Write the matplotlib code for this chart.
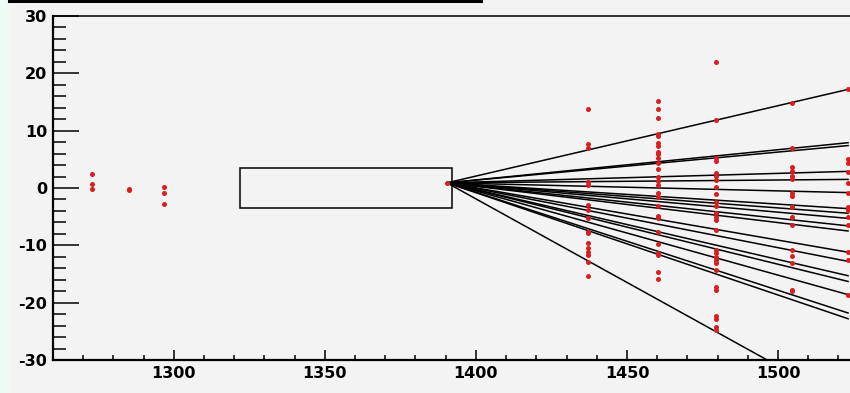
import matplotlib.pyplot as plt
from matplotlib.lines import Line2D
from matplotlib.patches import Rectangle
from matplotlib.ticker import MultipleLocator

plt.rcParams['font.family'] = ['DejaVu Sans']
plt.rcParams['axes.unicode_minus'] = False

# detector layer positions (z) and the hits recorded in each
layer_z = [1272.8, 1285.3, 1296.9, 1437.0, 1460.2, 1479.5, 1504.5, 1523.2]
layer_hits = [
    [2.5, 0.7, -0.1],
    [-0.2, -0.4],
    [0.1, -0.8, -2.8],
    [13.8, 7.6, 6.9, 1.0, 0.5, -3.0, -3.8, -5.3, -7.6, -7.9, -9.6, -10.5,
     -11.1, -11.7, -12.9, -15.4],
    [15.2, 13.7, 12.2, 9.4, 9.0, 7.8, 7.3, 6.3, 5.9, 5.2, 4.4, 3.4, 2.0, 1.3,
     0.5, -0.9, -1.5, -3.1, -4.9, -5.3, -7.6, -9.8, -11.3, -11.7, -14.6, -15.8],
    [22.0, 11.9, 5.2, 4.7, 2.7, 2.1, 1.4, 0.2, -1.1, -2.4, -3.1, -4.4, -5.0,
     -5.5, -7.4, -10.8, -11.4, -12.0, -12.6, -13.1, -14.3, -17.2, -17.8,
     -22.3, -22.9, -24.3, -24.8],
    [14.8, 6.9, 3.6, 2.9, 2.1, 1.5, -0.9, -1.4, -3.4, -5.1, -6.5, -10.8,
     -11.9, -13.1, -17.8, -18.0],
    [17.2, 5.0, 4.3, 2.8, 0.9, -0.9, -3.4, -3.8, -5.0, -6.5, -11.1, -12.5,
     -18.7],
]

# common vertex of the fitted tracks and their heights at the last layer
vertex_z, vertex_y = 1390.4, 0.9
track_end_z = 1523.2
track_end_y = [17.2, 7.9, 7.4, 2.9, 1.5, -0.8, -3.6, -4.4, -5.3, -6.6, -7.5,
               -11.2, -12.8, -15.3, -16.3, -18.6, -21.8, -22.8, -37.8]

# target box
box_z = (1322, 1392)
box_y = (-3.5, 3.5)

fig = plt.figure(figsize=(8.5, 3.93), dpi=100, facecolor='#f3f3f3')
# thin mint strip on the left and the frame edge above the plot
fig.patches.append(Rectangle((0, 0), 9 / 850, 1, transform=fig.transFigure,
                             facecolor='#eefbf5', edgecolor='none', zorder=0))
fig.lines.append(Line2D([9 / 850, 481 / 850], [392 / 393, 392 / 393],
                        transform=fig.transFigure, color='black', lw=2.2))

ax = fig.add_axes([53 / 850, 33 / 393, 815.6 / 850, 344 / 393])
ax.set_facecolor('#f3f3f3')
ax.set_xlim(1260, 1530)
ax.set_ylim(-30, 30)

ax.add_patch(Rectangle((box_z[0], box_y[0]), box_z[1] - box_z[0],
                       box_y[1] - box_y[0], fill=False, edgecolor='black',
                       lw=1.1))

for y_end in track_end_y:
    ax.plot([vertex_z, track_end_z], [vertex_y, y_end], color='black', lw=1.1)

ax.plot([vertex_z], [vertex_y], 'o', color='#d81e1e', ms=3.6, mec='none')
for z, hits in zip(layer_z, layer_hits):
    ax.plot([z] * len(hits), hits, 'o', color='#d81e1e', ms=3.6, mec='none',
            zorder=3)

ax.xaxis.set_major_locator(MultipleLocator(50))
ax.xaxis.set_minor_locator(MultipleLocator(10))
ax.yaxis.set_major_locator(MultipleLocator(10))
ax.yaxis.set_minor_locator(MultipleLocator(2))
ax.tick_params(axis='x', which='major', direction='in', length=7.2, width=1.1,
               pad=4, labelsize=11.5)
ax.tick_params(axis='x', which='minor', direction='in', length=3.6, width=1.1)
ax.tick_params(axis='y', which='major', direction='in', length=18.5, width=1.1,
               pad=4, labelsize=11.5)
ax.tick_params(axis='y', which='minor', direction='in', length=9.4, width=1.1)
for lbl in ax.get_xticklabels() + ax.get_yticklabels():
    lbl.set_fontweight('bold')

for side in ['left', 'bottom']:
    ax.spines[side].set_linewidth(1.6)
ax.spines['top'].set_linewidth(1.1)

fig.savefig('out.png', dpi=100, facecolor=fig.get_facecolor())
